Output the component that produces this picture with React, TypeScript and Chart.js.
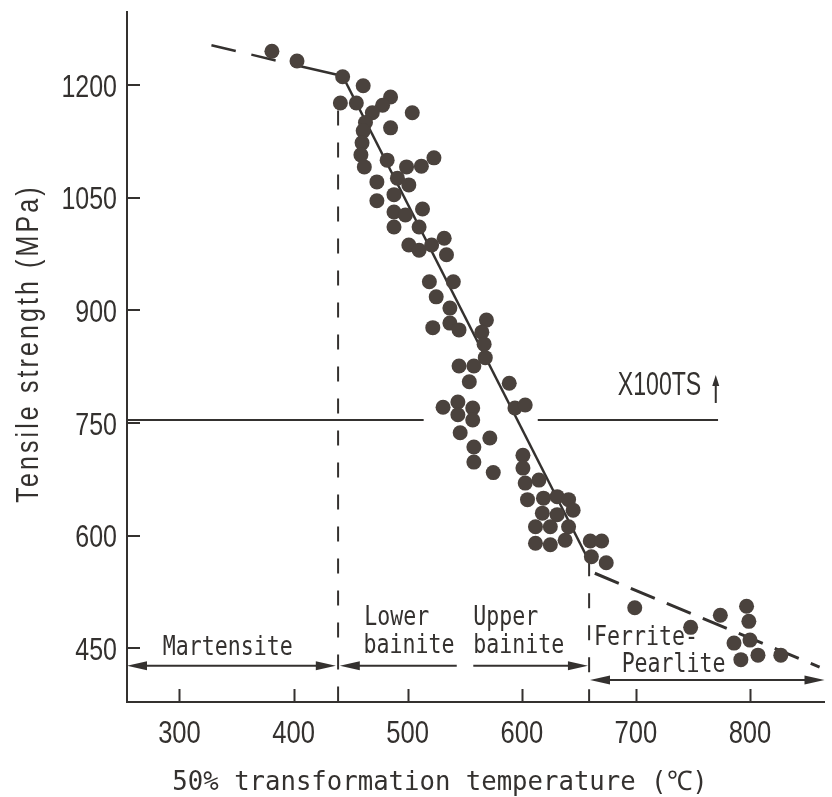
import React, { useEffect, useRef } from "react";
import { Chart, registerables } from "chart.js";

Chart.register(...registerables);

const INK = "#34312f";
const DOT = "#4a423d";

// axes
const xTicks = [300, 400, 500, 600, 700, 800];
const yTicks = [450, 600, 750, 900, 1050, 1200];
const xMin = 254;
const xMax = 865.3;
const yMin = 378.6;
const yMax = 1297.2;

// specimens: 50% transformation temperature (°C) and tensile strength (MPa)
const temps = [
  381, 403, 443, 461, 441, 455, 485, 478, 469, 463,
  504, 485, 461, 460, 459, 462, 482, 473, 473, 491,
  499, 512, 523, 501, 488, 488, 498, 513, 488, 510,
  501, 510, 521, 532, 534, 519, 540, 525, 537, 537,
  522, 545, 569, 565, 567, 568, 545, 558, 554, 589,
  531, 544, 557, 544, 557, 594, 603, 546, 572, 558,
  558, 575, 601, 601, 603, 615, 605, 619, 631, 641,
  645, 618, 631, 612, 625, 641, 612, 625, 638, 660,
  670, 661, 674, 699, 748, 774, 797, 799, 786, 800,
  792, 807, 827,
];
const strengths = [
  1245, 1232, 1211, 1199, 1176, 1176, 1184, 1173, 1163, 1150,
  1163, 1143, 1139, 1123, 1107, 1091, 1100, 1071, 1046, 1076,
  1091, 1092, 1103, 1067, 1054, 1031, 1027, 1035, 1011, 1011,
  987, 980, 987, 996, 974, 938, 938, 918, 903, 883,
  877, 874, 887, 871, 855, 837, 826, 826, 805, 803,
  771, 778, 770, 761, 754, 770, 774, 737, 730, 718,
  698, 684, 707, 690, 670, 674, 648, 650, 652, 648,
  634, 630, 628, 612, 612, 612, 590, 588, 594, 593,
  593, 572, 564, 504, 478, 494, 506, 486, 457, 461,
  435, 441, 441,
];

// trend lines
const upperDashT = [328, 403];
const upperDashS = [1253, 1226];
const upperSolidT = [403, 443];
const upperSolidS = [1226, 1212];
const mainT = [443, 659];
const mainS = [1212, 566];
const lowerDashT = [664, 861];
const lowerDashS = [550, 425];

// phase boundaries
const boundaryT = [439, 659];
const boundaryTopS = [1166, 566];

// X100 reference level
const refLevelS = 754;
const refSegStartT = [xMin, 614];
const refSegEndT = [514, 772];

// annotations
const phaseNames = ["Martensite", "Lower", "bainite", "Upper", "bainite", "Ferrite-", "Pearlite"];
const phaseNameT = [285.3, 462, 461.3, 557.5, 557.5, 663.3, 687.5];
const phaseNameS = [441, 481, 444, 481, 444, 454.5, 418.5];

const arrowFromT = [xMin, 440.5, 557.5, 659.8];
const arrowToT = [437, 543, 658, xMax];
const arrowS = [427, 427, 427, 408];
const arrowHeadFrom = [true, true, false, true];
const arrowHeadTo = [true, false, true, true];

const refLabel = "X100TS";
const refLabelT = 684.1;
const refLabelS = 787.3;
const upArrowT = 770;
const upArrowS = [776.7, 814];

const xTitle = "50% transformation temperature (℃)";
const yTitle = "Tensile strength (MPa)";

const seg = (ts: number[], ss: number[]) => ts.map((t, i) => ({ x: t, y: ss[i] }));

function drawText(
  ctx: CanvasRenderingContext2D,
  text: string,
  x: number,
  y: number,
  font: string,
  sx: number,
  align: CanvasTextAlign = "left",
  ls = 0
) {
  ctx.save();
  ctx.font = font;
  ctx.textAlign = align;
  ctx.textBaseline = "alphabetic";
  (ctx as any).letterSpacing = ls + "px";
  ctx.translate(x, y);
  ctx.scale(sx, 1);
  ctx.fillText(text, 0, 0);
  ctx.restore();
}

function head(ctx: CanvasRenderingContext2D, tx: number, ty: number, dir: number) {
  ctx.beginPath();
  ctx.moveTo(tx, ty);
  ctx.lineTo(tx - dir * 20, ty - 4.5);
  ctx.lineTo(tx - dir * 20, ty + 4.5);
  ctx.closePath();
  ctx.fill();
}

const TICK_FONT = "32px 'Liberation Sans', Arial, sans-serif";
const MONO_FONT = "26px 'DejaVu Sans Mono', 'Liberation Mono', monospace";

const decor = {
  id: "decor",
  afterDatasetsDraw(chart: any) {
    const ctx: CanvasRenderingContext2D = chart.ctx;
    const xs = chart.scales.x;
    const ys = chart.scales.y;
    const area = chart.chartArea;
    const X = (v: number) => xs.getPixelForValue(v);
    const Y = (v: number) => ys.getPixelForValue(v);
    ctx.save();
    ctx.strokeStyle = INK;
    ctx.fillStyle = INK;
    ctx.lineWidth = 2;

    // inward tick marks
    ctx.beginPath();
    xs.ticks.forEach((t: any) => {
      const px = Math.round(X(t.value)) + 0.5;
      ctx.moveTo(px, area.bottom);
      ctx.lineTo(px, area.bottom - 13);
    });
    ys.ticks.forEach((t: any) => {
      const py = Math.round(Y(t.value));
      ctx.moveTo(area.left, py);
      ctx.lineTo(area.left + 13, py);
    });
    ctx.stroke();

    // tick labels
    xs.ticks.forEach((t: any) => {
      drawText(ctx, String(t.value), X(t.value), area.bottom + 41, TICK_FONT, 0.8, "center");
    });
    ys.ticks.forEach((t: any) => {
      drawText(ctx, String(t.value), area.left - 10, Y(t.value) + 11.5, TICK_FONT, 0.78, "right");
    });

    // axis titles
    drawText(ctx, xTitle, 440, 790, "27px 'DejaVu Sans Mono', 'Liberation Mono', monospace", 0.95, "center");
    ctx.save();
    ctx.translate(38, 343.5);
    ctx.rotate(-Math.PI / 2);
    drawText(ctx, yTitle, 0, 0, TICK_FONT, 0.78, "center", 4);
    ctx.restore();

    // phase names
    phaseNames.forEach((n, i) => {
      drawText(ctx, n, X(phaseNameT[i]), Y(phaseNameS[i]), MONO_FONT, 0.83, "left");
    });

    // phase range arrows
    arrowFromT.forEach((f, i) => {
      const x1 = X(f);
      const x2 = X(arrowToT[i]);
      const y = Y(arrowS[i]);
      ctx.beginPath();
      ctx.moveTo(x1 + (arrowHeadFrom[i] ? 10 : 0), y);
      ctx.lineTo(x2 - (arrowHeadTo[i] ? 10 : 0), y);
      ctx.stroke();
      if (arrowHeadFrom[i]) head(ctx, x1, y, -1);
      if (arrowHeadTo[i]) head(ctx, x2, y, 1);
    });

    // reference label and up arrow
    drawText(ctx, refLabel, X(refLabelT), Y(refLabelS), "34px 'Liberation Sans', Arial, sans-serif", 0.68, "left");
    const ux = X(upArrowT);
    const uy1 = Y(upArrowS[0]);
    const uy2 = Y(upArrowS[1]);
    ctx.beginPath();
    ctx.moveTo(ux, uy1);
    ctx.lineTo(ux, uy2 + 8);
    ctx.stroke();
    ctx.beginPath();
    ctx.moveTo(ux, uy2);
    ctx.lineTo(ux - 3.5, uy2 + 11);
    ctx.lineTo(ux + 3.5, uy2 + 11);
    ctx.closePath();
    ctx.fill();

    ctx.restore();
  },
};

export default function App() {
  const ref = useRef<HTMLCanvasElement | null>(null);
  useEffect(() => {
    document.body.style.margin = "0";
    const canvas = ref.current;
    if (!canvas) return;
    const lineDs = (data: any[], width: number, dash: number[] = []) => ({
      type: "scatter" as const,
      data,
      showLine: true,
      borderColor: INK,
      borderWidth: width,
      borderDash: dash,
      pointRadius: 0,
      fill: false,
    });
    const chart = new Chart(canvas, {
      type: "scatter",
      data: {
        datasets: [
          {
            data: seg(temps, strengths),
            backgroundColor: DOT,
            borderWidth: 0,
            pointRadius: 7.5,
            pointHoverRadius: 7.5,
          },
          lineDs(seg(upperDashT, upperDashS), 2.5, [25, 16]),
          lineDs(seg(upperSolidT, upperSolidS), 2.5),
          lineDs(seg(mainT, mainS), 2.5),
          lineDs(seg(lowerDashT, lowerDashS), 3, [26, 13]),
          lineDs(seg([boundaryT[0], boundaryT[0]], [boundaryTopS[0], yMin]), 2, [15, 17]),
          lineDs(seg([boundaryT[1], boundaryT[1]], [boundaryTopS[1], yMin]), 2, [15, 17]),
          lineDs(seg([refSegStartT[0], refSegEndT[0]], [refLevelS, refLevelS]), 2),
          lineDs(seg([refSegStartT[1], refSegEndT[1]], [refLevelS, refLevelS]), 2),
        ] as any,
      },
      options: {
        responsive: false,
        devicePixelRatio: 1,
        animation: false,
        events: [],
        layout: { padding: { left: 127, top: 12, right: 0, bottom: 95 } },
        plugins: { legend: { display: false }, tooltip: { enabled: false } },
        scales: {
          x: {
            type: "linear",
            min: xMin,
            max: xMax,
            afterBuildTicks: (s: any) => {
              s.ticks = xTicks.map((v) => ({ value: v }));
            },
            ticks: { display: false },
            grid: { display: false, drawTicks: false, tickLength: 0 },
            border: { display: true, color: INK, width: 2 },
          },
          y: {
            type: "linear",
            min: yMin,
            max: yMax,
            afterBuildTicks: (s: any) => {
              s.ticks = yTicks.map((v) => ({ value: v }));
            },
            ticks: { display: false },
            grid: { display: false, drawTicks: false, tickLength: 0 },
            border: { display: true, color: INK, width: 2 },
          },
        },
      },
      plugins: [decor],
    });
    return () => chart.destroy();
  }, []);
  return <canvas ref={ref} width={832} height={797} style={{ display: "block" }} />;
}
